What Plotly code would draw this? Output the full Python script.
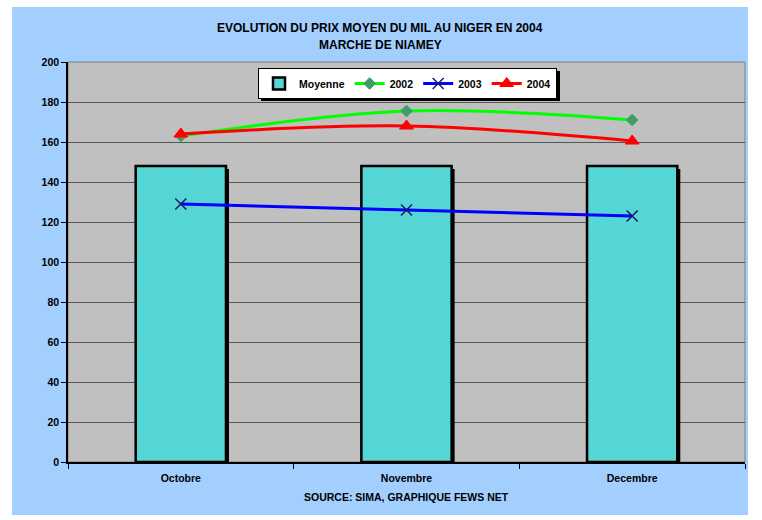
import plotly.graph_objects as go

months = ["Octobre", "Novembre", "Decembre"]
moyenne = [148, 148, 148]
s2002 = [163, 175.5, 171]
s2003 = [129, 126, 123]
s2004 = [164, 168, 160.5]
y_ticks = list(range(0, 201, 20))

W, H = 762, 520
L, R, T, B = 68, 745, 62, 462  # plot area pixels

def px_x(p):
    return (p - L) / (R - L)

def px_y(p):
    return (B - p) / (B - T)

FONT = "Liberation Sans, Arial, sans-serif"
BOLD = dict(family=FONT, size=11, color="black", weight="bold")

fig = go.Figure()
# bar shadow
fig.add_trace(go.Bar(
    x=months, y=[v - 1.5 for v in moyenne], width=0.4, offset=-0.2 + 3 / (R - L) * 3,
    marker=dict(color="black", line=dict(width=0)), showlegend=False, hoverinfo="skip",
))
fig.add_trace(go.Bar(
    x=months, y=moyenne, name="Moyenne", width=0.4, offset=-0.2,
    marker=dict(color="#3CE0E0", line=dict(color="black", width=2.5),
                pattern=dict(shape=".", fgcolor="#A0B8B8", bgcolor="#3CE0E0", size=3, solidity=0.5)),
))
fig.add_trace(go.Scatter(
    x=months, y=s2002, name="2002", mode="lines+markers", line=dict(color="#00FF00", width=3, shape="spline"),
    marker=dict(symbol="diamond", size=9, color="#3E9E6A", line=dict(color="#3E9E6A", width=1)),
))
fig.add_trace(go.Scatter(
    x=months, y=s2003, name="2003", mode="lines+markers", line=dict(color="#0000FF", width=3, shape="spline"),
    marker=dict(symbol="x-thin", size=11, color="#0000FF", line=dict(color="#1A1A66", width=1.5)),
))
fig.add_trace(go.Scatter(
    x=months, y=s2004, name="2004", mode="lines+markers", line=dict(color="#FF0000", width=3, shape="spline"),
    marker=dict(symbol="triangle-up", size=12, color="#FF0000", line=dict(color="#FF0000", width=1)),
))

shapes = [
    dict(type="rect", xref="paper", yref="paper", layer="below",
         x0=px_x(12), x1=px_x(748), y0=px_y(515), y1=px_y(7),
         fillcolor="#A3CFFF", line=dict(width=0)),
    dict(type="rect", xref="paper", yref="paper", layer="below",
         x0=0, x1=1, y0=0, y1=1, fillcolor="#C0C0C0", line=dict(color="#808080", width=1)),
    dict(type="rect", xref="paper", yref="paper", layer="below",
         x0=px_x(261), x1=px_x(560), y0=px_y(101), y1=px_y(71),
         fillcolor="black", line=dict(width=0)),
]

annotations = [
    dict(text="EVOLUTION DU PRIX MOYEN DU MIL AU NIGER EN 2004", xref="paper", yref="paper",
         x=px_x(380), y=px_y(28), showarrow=False, font=dict(BOLD, size=12),
         xanchor="center", yanchor="middle"),
    dict(text="MARCHE DE NIAMEY", xref="paper", yref="paper",
         x=px_x(380), y=px_y(45), showarrow=False, font=dict(BOLD, size=12),
         xanchor="center", yanchor="middle"),
    dict(text="SOURCE: SIMA, GRAPHIQUE FEWS NET", xref="paper", yref="paper",
         x=0.5, y=px_y(497), showarrow=False, font=dict(BOLD, size=10.5),
         xanchor="center", yanchor="middle"),
]

fig.update_layout(
    width=W, height=H,
    margin=dict(l=L, r=W - R, t=T, b=H - B, pad=0),
    paper_bgcolor="white", plot_bgcolor="rgba(0,0,0,0)",
    font=dict(family=FONT, size=11, color="black"),
    showlegend=True,
    legend=dict(orientation="h", x=px_x(258), y=px_y(68), xanchor="left", yanchor="top",
                bgcolor="white", bordercolor="black", borderwidth=1,
                font=dict(BOLD, size=10.5), traceorder="normal", itemwidth=30,
                tracegroupgap=0),
    shapes=shapes, annotations=annotations,
    barmode="overlay",
)
fig.update_xaxes(
    type="category", range=[-0.5, 2.5], tickson="boundaries", ticks="outside", ticklen=5,
    tickcolor="black", showline=True, linecolor="black", linewidth=1.5, showgrid=False,
    tickfont=dict(BOLD, size=10.5), ticklabelstandoff=6,
)
fig.update_yaxes(
    range=[0, 200], tickvals=y_ticks, ticks="outside", ticklen=5, tickcolor="black",
    showline=True, linecolor="black", linewidth=1.5, showgrid=True, gridcolor="#555555", gridwidth=1,
    zeroline=False, tickfont=dict(BOLD, size=10.5),
)

fig.write_html("out.html", config={"displayModeBar": False},
               post_script="document.body.style.margin='0px';document.body.style.overflow='hidden';")
